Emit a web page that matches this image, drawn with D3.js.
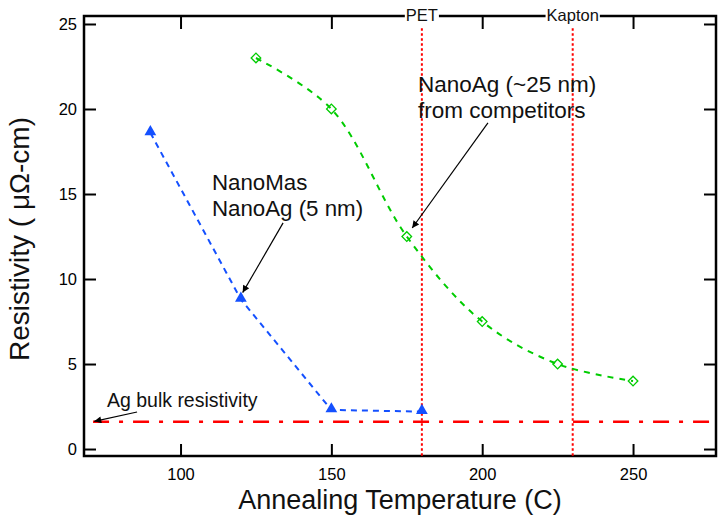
<!DOCTYPE html>
<html>
<head>
<meta charset="utf-8">
<script src="https://cdn.jsdelivr.net/npm/d3@7"></script>
<style>
  body { margin: 0; background: #fff; }
  svg { font-family: "Liberation Sans", Arial, sans-serif; }
</style>
</head>
<body>
<div class="chart"></div>
<script>
// data
const nanoMasTemp = [90, 120, 150, 180];
const nanoMasRes = [18.6, 8.8, 2.3, 2.2];
const competitorTemp = [125, 150, 175, 200, 225, 250];
const competitorRes = [23, 20, 12.5, 7.5, 5, 4];
const xTicks = [100, 150, 200, 250];
const yTicks = [0, 5, 10, 15, 20, 25];
const substrateNames = ["PET", "Kapton"];
const substrateTemp = [180, 230];
const agBulkRes = 1.6;

const width = 719, height = 516;
const margin = { top: 16, right: 3, bottom: 60, left: 84 };

let svg = d3.select(".chart").append("svg")
    .attr("width", width)
    .attr("height", height);

// scales
const x = d3.scaleLinear()
    .domain([68, 277.5])
    .range([margin.left, width - margin.right]);
const y = d3.scaleLinear()
    .domain([-0.41, 25.47])
    .range([height - margin.bottom, margin.top]);

// arrow head
svg.append("defs").append("marker")
    .attr("id", "arrow")
    .attr("viewBox", "0 0 10 10")
    .attr("refX", 10).attr("refY", 5)
    .attr("markerWidth", 11).attr("markerHeight", 7)
    .attr("markerUnits", "userSpaceOnUse")
    .attr("orient", "auto")
    .append("path")
    .attr("d", "M0,0 L10,5 L0,10 Z")
    .attr("fill", "#000");

// axes
const styleAxis = g => {
    g.select(".domain").remove();
    g.selectAll(".tick line").attr("stroke", "#000").attr("stroke-width", 2);
    g.selectAll(".tick text").attr("fill", "#000").attr("font-size", 16.5);
};
svg.append("g")
    .attr("transform", `translate(0,${y.range()[0]})`)
    .call(d3.axisBottom(x).tickValues(xTicks).tickSize(-12).tickPadding(12.4))
    .call(styleAxis);
svg.append("g")
    .attr("transform", `translate(0,${y.range()[1]})`)
    .call(d3.axisTop(x).tickValues(xTicks).tickSize(-13).tickFormat(""))
    .call(styleAxis);
svg.append("g")
    .attr("transform", `translate(${x.range()[0]},0)`)
    .call(d3.axisLeft(y).tickValues(yTicks).tickSize(-12).tickPadding(7))
    .call(styleAxis);
svg.append("g")
    .attr("transform", `translate(${x.range()[1]},0)`)
    .call(d3.axisRight(y).tickValues(yTicks).tickSize(-12).tickFormat(""))
    .call(styleAxis);

// frame
svg.append("rect")
    .attr("x", x.range()[0])
    .attr("y", y.range()[1])
    .attr("width", x.range()[1] - x.range()[0])
    .attr("height", y.range()[0] - y.range()[1])
    .attr("fill", "none")
    .attr("stroke", "#000")
    .attr("stroke-width", 2.5);

// substrate limits
substrateTemp.forEach((t, i) => {
    svg.append("line")
        .attr("x1", x(t)).attr("x2", x(t))
        .attr("y1", y(24.75)).attr("y2", y.range()[0])
        .attr("stroke", "#ff0000")
        .attr("stroke-width", 2)
        .attr("stroke-dasharray", "2.5,2.5");
    let label = svg.append("text")
        .attr("x", x(t))
        .attr("y", y.range()[1] + 4.5)
        .attr("text-anchor", "middle")
        .attr("font-size", 16.5)
        .attr("fill", "#111")
        .text(substrateNames[i]);
    let bb = label.node().getBBox();
    svg.insert("rect", () => label.node())
        .attr("x", bb.x - 1).attr("y", y.range()[1] - 2)
        .attr("width", bb.width + 2).attr("height", 4)
        .attr("fill", "#fff");
});

// Ag bulk line
svg.append("line")
    .attr("x1", x(71)).attr("x2", x(275.6))
    .attr("y1", y(agBulkRes)).attr("y2", y(agBulkRes))
    .attr("stroke", "#ff0000")
    .attr("stroke-width", 2.5)
    .attr("stroke-dasharray", "16,10,4,10");

// competitor series
const competitor = competitorTemp.map((t, i) => ({ t: t, r: competitorRes[i] }));
svg.append("path")
    .datum(competitor)
    .attr("fill", "none")
    .attr("stroke", "#00cc00")
    .attr("stroke-width", 2)
    .attr("stroke-dasharray", "6,6")
    .attr("d", d3.line()
        .curve(d3.curveCatmullRom.alpha(0.5))
        .x(d => x(d.t))
        .y(d => y(d.r)));
svg.append("g")
    .selectAll("path")
    .data(competitor)
    .join("path")
        .attr("transform", d => `translate(${x(d.t)},${y(d.r)}) rotate(45)`)
        .attr("d", d3.symbol(d3.symbolSquare, 46))
        .attr("fill", "none")
        .attr("stroke", "#00cc00")
        .attr("stroke-width", 1.3);

// NanoMas series
const nanoMas = nanoMasTemp.map((t, i) => ({ t: t, r: nanoMasRes[i] }));
svg.append("path")
    .datum(nanoMas)
    .attr("fill", "none")
    .attr("stroke", "#1450ff")
    .attr("stroke-width", 2)
    .attr("stroke-dasharray", "6,5")
    .attr("d", d3.line()
        .x(d => x(d.t))
        .y(d => y(d.r)));
svg.append("g")
    .selectAll("path")
    .data(nanoMas)
    .join("path")
        .attr("transform", d => `translate(${x(d.t)},${y(d.r) - 1})`)
        .attr("d", d3.symbol(d3.symbolTriangle, 60))
        .attr("fill", "#1450ff");

// annotations
const note = (lines, t, r, size) => {
    let txt = svg.append("text")
        .attr("x", x(t)).attr("y", y(r))
        .attr("font-size", size)
        .attr("fill", "#111");
    lines.forEach((s, i) => {
        txt.append("tspan")
            .attr("x", x(t))
            .attr("dy", i == 0 ? 0 : "1.16em")
            .text(s);
    });
};
const arrow = (t1, r1, t2, r2) => {
    svg.append("line")
        .attr("x1", x(t1)).attr("y1", y(r1))
        .attr("x2", x(t2)).attr("y2", y(r2))
        .attr("stroke", "#000")
        .attr("stroke-width", 1.2)
        .attr("marker-end", "url(#arrow)");
};

note(["NanoMas", "NanoAg (5 nm)"], 110.4, 15.24, 22.3);
arrow(134.0, 13.3, 120.6, 9.2);

note(["NanoAg (~25 nm)", "from competitors"], 178.7, 21.0, 22.5);
arrow(201.9, 19.18, 176.8, 13.0);

note(["Ag bulk resistivity"], 75.6, 2.47, 19.5);
arrow(85.6, 2.18, 71.4, 1.63);

// axis titles
svg.append("text")
    .attr("x", (x.range()[0] + x.range()[1]) / 2)
    .attr("y", 509)
    .attr("text-anchor", "middle")
    .attr("font-size", 27)
    .attr("fill", "#111")
    .text("Annealing Temperature (C)");
svg.append("text")
    .attr("transform", `translate(29,${(y.range()[0] + y.range()[1]) / 2 + 3}) rotate(-90)`)
    .attr("text-anchor", "middle")
    .attr("font-size", 28)
    .attr("fill", "#111")
    .text("Resistivity ( \u03bc\u03a9-cm)");
</script>
</body>
</html>
